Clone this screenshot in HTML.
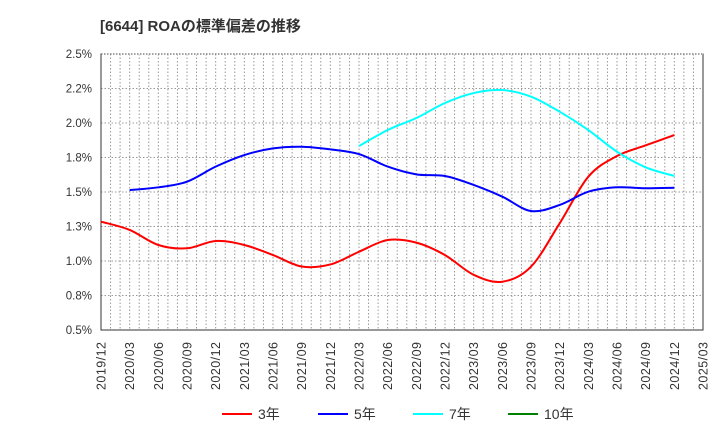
<!DOCTYPE html>
<html><head><meta charset="utf-8"><style>
body{margin:0;background:#fff;}
svg{display:block;font-family:"Liberation Sans","Noto Sans CJK JP",sans-serif;}
</style></head><body>
<svg id="c" width="720" height="440">
<text x="100" y="31" font-size="15" font-weight="bold" fill="#333">[6644]  ROAの標準偏差の推移</text>
</svg>
<script>
const xLabels=["2019/12","2020/03","2020/06","2020/09","2020/12","2021/03","2021/06","2021/09","2021/12","2022/03","2022/06","2022/09","2022/12","2023/03","2023/06","2023/09","2023/12","2024/03","2024/06","2024/09","2024/12","2025/03"];
const yTicks=[0.5,0.75,1.0,1.25,1.5,1.75,2.0,2.25,2.5];
const yTickLabels=["0.5%","0.8%","1.0%","1.3%","1.5%","1.8%","2.0%","2.2%","2.5%"];
const s3=[1.285,1.225,1.116,1.092,1.145,1.116,1.043,0.96,0.975,1.067,1.152,1.133,1.043,0.9,0.85,0.959,1.273,1.611,1.761,1.838,1.913];
const s5=[null,1.514,1.534,1.575,1.684,1.768,1.816,1.828,1.809,1.775,1.684,1.628,1.616,1.551,1.466,1.362,1.406,1.502,1.534,1.527,1.531];
const s7=[null,null,null,null,null,null,null,null,null,1.833,1.949,2.036,2.145,2.217,2.239,2.191,2.082,1.949,1.792,1.679,1.616];
const s10=[];
const L=101,R=703,T=54,B=330;
const svg=document.getElementById('c');
const NS='http://www.w3.org/2000/svg';
const xq=q=>L+q*(R-L)/21;
const xm=m=>L+m*(R-L)/63;
const yv=v=>B-(v-0.5)/2.0*(B-T);
function mk(t,a,p){const e=document.createElementNS(NS,t);for(const k in a)e.setAttribute(k,a[k]);(p||svg).appendChild(e);return e;}
const g=mk('g',{});


for(let m=1;m<63;m++){mk('line',{x1:xm(m),x2:xm(m),y1:T,y2:B,stroke:'#999','stroke-dasharray':'1.5,2','stroke-width':1},g);}
for(let i=1;i<yTicks.length-1;i++){mk('line',{x1:L,x2:R,y1:yv(yTicks[i]),y2:yv(yTicks[i]),stroke:'#999','stroke-dasharray':'1.5,2','stroke-width':1},g);}
const fr=mk('rect',{x:L,y:T,width:R-L,height:B-T,fill:'none',stroke:'#333'});


mk('line',{x1:L,x2:R,y1:T,y2:T,stroke:'#fff','stroke-width':1.2});
mk('line',{x1:L,x2:R,y1:T,y2:T,stroke:'#444','stroke-dasharray':'1.5,1.5'});
yTicks.forEach((v,i)=>{const t=mk('text',{x:92,y:yv(v)+4,'text-anchor':'end','font-size':11.5,fill:'#333'});t.textContent=yTickLabels[i];

});
xLabels.forEach((s,i)=>{const x=xq(i);const t=mk('text',{x:0,y:0,'text-anchor':'end','font-size':12.5,textLength:48,lengthAdjust:'spacing',fill:'#333',transform:`translate(${x+4.5},342) rotate(-90)`});t.textContent=s;

});
function path(arr){const p=[];arr.forEach((v,i)=>{if(v!=null)p.push([xq(i),yv(v)]);});if(p.length<2)return '';
let d=`M${p[0][0]},${p[0][1]}`;for(let i=0;i<p.length-1;i++){const p0=p[i-1]||p[i],p1=p[i],p2=p[i+1],p3=p[i+2]||p2;
d+=` C${p1[0]+(p2[0]-p0[0])/6},${p1[1]+(p2[1]-p0[1])/6} ${p2[0]-(p3[0]-p1[0])/6},${p2[1]-(p3[1]-p1[1])/6} ${p2[0]},${p2[1]}`;}return d;}
const series=[[s3,'#ff0000','series-3y'],[s5,'#0000ff','series-5y'],[s7,'#00ffff','series-7y'],[s10,'#008000','series-10y']];
series.forEach(([a,c,n])=>{const d=path(a);if(!d)return;const e=mk('path',{d:d,fill:'none',stroke:c,'stroke-width':2});

});
const leg=[["3年",'#ff0000',222],["5年",'#0000ff',318],["7年",'#00ffff',413],["10年",'#008000',508]];
leg.forEach(([s,c,x])=>{const lg=mk('g',{});


mk('line',{x1:x,x2:x+30,y1:414,y2:414,stroke:c,'stroke-width':2},lg);const t=mk('text',{x:x+36,y:419,'font-size':14,fill:'#333'},lg);t.textContent=s;});
</script>
</body></html>
